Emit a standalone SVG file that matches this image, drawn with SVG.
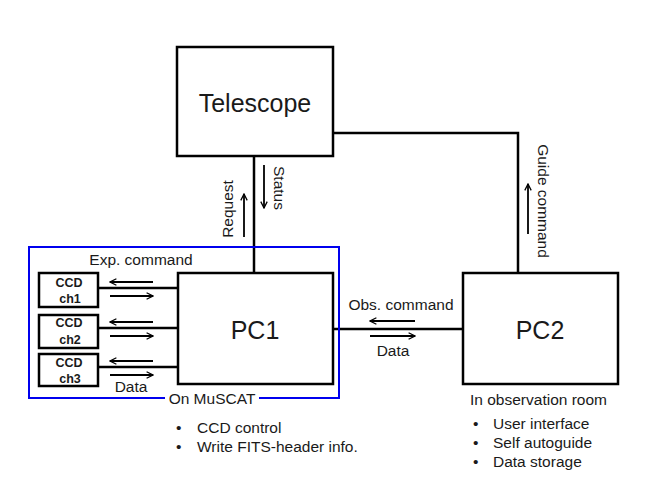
<svg xmlns="http://www.w3.org/2000/svg" width="654" height="491" viewBox="0 0 654 491">
<defs>
<marker id="ah" viewBox="0 0 10 10" refX="9" refY="5" markerWidth="8" markerHeight="8" markerUnits="userSpaceOnUse" orient="auto">
<path d="M1,1 L9,5 L1,9" fill="none" stroke="#000" stroke-width="1.6"/>
</marker>
<style>
.box{fill:#fff;stroke:#000;stroke-width:2.5}
.ln{fill:none;stroke:#000;stroke-width:2.5}
.ar{fill:none;stroke:#000;stroke-width:1.8;marker-end:url(#ah)}
.t{font-family:"Liberation Sans",Arial,sans-serif;fill:#1a1a1a}
.lbl{font-size:15.5px}
.big{font-size:25px}
.ccd{font-size:12.5px;font-weight:bold;text-anchor:middle}
</style>
</defs>
<rect width="654" height="491" fill="#fff"/>
<g id="connectors">
<path class="ln" d="M254,156 V273"/>
<path class="ln" d="M333,133 H518 V273"/>
<path class="ln" d="M333,329 H463"/>
<path class="ln" d="M98,288 H178"/>
<path class="ln" d="M98,328 H178"/>
<path class="ln" d="M98,367 H178"/>
<path class="ar" d="M264,165 V208"/>
<path class="ar" d="M244,237 V194"/>
<path class="ar" d="M528,234 V184"/>
<path class="ar" d="M153,282 H110"/>
<path class="ar" d="M110,296 H153"/>
<path class="ar" d="M153,322 H110"/>
<path class="ar" d="M110,336 H153"/>
<path class="ar" d="M153,361 H110"/>
<path class="ar" d="M110,375 H153"/>
<path class="ar" d="M415,321 H370"/>
<path class="ar" d="M370,336 H415"/>
<text class="t lbl" text-anchor="middle" transform="translate(274,188) rotate(90)">Status</text>
<text class="t lbl" text-anchor="middle" transform="translate(233,209) rotate(-90)">Request</text>
<text class="t lbl" text-anchor="middle" transform="translate(538,201) rotate(90)">Guide command</text>
<text class="t lbl" x="141" y="265" text-anchor="middle">Exp. command</text>
<text class="t lbl" x="131" y="392" text-anchor="middle">Data</text>
<text class="t lbl" x="401" y="310" text-anchor="middle">Obs. command</text>
<text class="t lbl" x="393" y="356" text-anchor="middle">Data</text>
</g>
<g id="muscat">
<path d="M165,398 H29 V247 H339 V398 H259" fill="none" stroke="#0000ee" stroke-width="2"/>
<text class="t lbl" x="212" y="404" text-anchor="middle">On MuSCAT</text>
</g>
<g id="telescope">
<rect class="box" x="177" y="47" width="156" height="109"/>
<text class="t big" x="255" y="112" text-anchor="middle">Telescope</text>
</g>
<g id="pc1">
<rect class="box" x="178" y="273" width="155" height="111"/>
<text class="t big" x="255" y="339" text-anchor="middle">PC1</text>
</g>
<g id="pc2">
<rect class="box" x="463" y="273" width="155" height="111"/>
<text class="t big" x="540" y="339" text-anchor="middle">PC2</text>
</g>
<g id="ccd1">
<rect class="box" x="39" y="273" width="59" height="34"/>
<text class="t ccd" x="69" y="287">CCD</text>
<text class="t ccd" x="70" y="303">ch1</text>
</g>
<g id="ccd2">
<rect class="box" x="39" y="315" width="59" height="33"/>
<text class="t ccd" x="69" y="327">CCD</text>
<text class="t ccd" x="70" y="344">ch2</text>
</g>
<g id="ccd3">
<rect class="box" x="39" y="354" width="59" height="32"/>
<text class="t ccd" x="69" y="367">CCD</text>
<text class="t ccd" x="70" y="383">ch3</text>
</g>
<g id="pc1-notes">
<text class="t lbl" x="176" y="433">•</text>
<text class="t lbl" x="197" y="433">CCD control</text>
<text class="t lbl" x="176" y="452">•</text>
<text class="t lbl" x="197" y="452">Write FITS-header info.</text>
</g>
<g id="pc2-notes">
<text class="t lbl" x="470" y="405">In observation room</text>
<text class="t lbl" x="473" y="429">•</text>
<text class="t lbl" x="493" y="429">User interface</text>
<text class="t lbl" x="473" y="448">•</text>
<text class="t lbl" x="493" y="448">Self autoguide</text>
<text class="t lbl" x="473" y="467">•</text>
<text class="t lbl" x="493" y="467">Data storage</text>
</g>
</svg>
